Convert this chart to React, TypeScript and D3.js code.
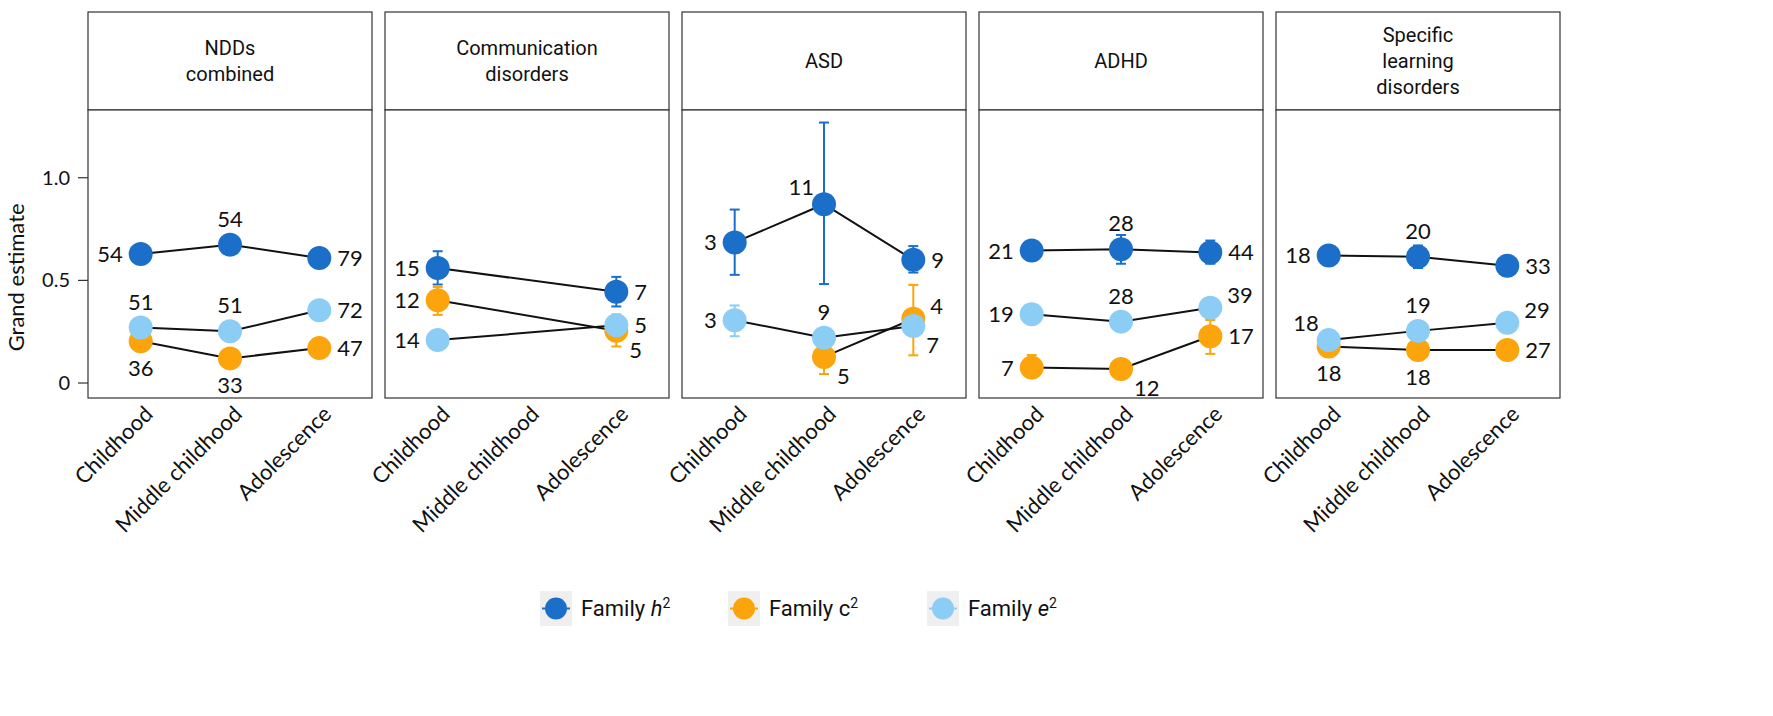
import React from 'react';
import * as d3 from 'd3';

// life stages on the x axis
const stages = ['Childhood', 'Middle childhood', 'Adolescence'];

// panel (disorder) titles, one array of lines per panel
const panelTitles = [
  ['NDDs', 'combined'],
  ['Communication', 'disorders'],
  ['ASD'],
  ['ADHD'],
  ['Specific', 'learning', 'disorders'],
];

// grand estimates per panel x stage (null = not estimated)
const h2Est = [
  [0.628, 0.674, 0.609],
  [0.56, null, 0.445],
  [0.685, 0.871, 0.6],
  [0.645, 0.652, 0.636],
  [0.621, 0.615, 0.571],
];
const c2Est = [
  [0.203, 0.12, 0.17],
  [0.403, null, 0.255],
  [null, 0.127, 0.313],
  [0.075, 0.068, 0.228],
  [0.178, 0.161, 0.161],
];
const e2Est = [
  [0.27, 0.252, 0.354],
  [0.209, null, 0.281],
  [0.306, 0.22, 0.278],
  [0.335, 0.299, 0.367],
  [0.209, 0.254, 0.293],
];

// confidence intervals [lower, upper] (null = hidden behind the point)
const h2CI = [
  [null, null, null],
  [[0.48, 0.642], null, [0.373, 0.517]],
  [[0.527, 0.845], [0.482, 1.269], [0.538, 0.667]],
  [null, [0.581, 0.721], [0.581, 0.694]],
  [null, [0.56, 0.67], null],
];
const c2CI = [
  [null, null, null],
  [[0.332, 0.468], null, [0.178, 0.29]],
  [null, [0.044, 0.22], [0.135, 0.478]],
  [[0.03, 0.136], null, [0.142, 0.307]],
  [[0.15, 0.215], null, null],
];
const e2CI = [
  [null, null, null],
  [null, null, [0.24, 0.335]],
  [[0.228, 0.378], null, [0.24, 0.31]],
  [null, null, null],
  [null, null, null],
];

// number of studies shown next to each point
const h2Studies = [
  ['54', '54', '79'],
  ['15', null, '7'],
  ['3', '11', '9'],
  ['21', '28', '44'],
  ['18', '20', '33'],
];
const c2Studies = [
  ['36', '33', '47'],
  ['12', null, '5'],
  [null, '5', '4'],
  ['7', '12', '17'],
  ['18', '18', '27'],
];
const e2Studies = [
  ['51', '51', '72'],
  ['14', null, '5'],
  ['3', '9', '7'],
  ['19', '28', '39'],
  ['18', '19', '29'],
];

// where each study count sits relative to its point
const h2Side = [
  ['l', 't', 'r'],
  ['l', null, 'r'],
  ['l', 'tl', 'r'],
  ['l', 't', 'r'],
  ['l', 't', 'r'],
];
const c2Side = [
  ['b', 'b', 'r'],
  ['l', null, 'dr'],
  [null, 'dr', 'ur'],
  ['l', 'dr', 'r'],
  ['b', 'b', 'r'],
];
const e2Side = [
  ['t', 't', 'r'],
  ['l', null, 'r'],
  ['l', 't', 'dr'],
  ['l', 't', 'ur'],
  ['tl', 't', 'ur'],
];

const yTicks = [0, 0.5, 1.0];

const W = 1773;
const H = 716;
const panelLeft0 = 88;
const panelW = 284;
const panelGap = 13;
const stripTop = 12;
const plotTop = 110;
const plotBottom = 398;
const R = 12;

const numFont = 'Lato, "Open Sans", sans-serif';
const titleFont = 'Roboto, "Liberation Sans", sans-serif';

const series = [
  { name: 'h', color: '#1b6fc9', est: h2Est, ci: h2CI, labels: h2Studies, side: h2Side, italic: true },
  { name: 'c', color: '#fba40b', est: c2Est, ci: c2CI, labels: c2Studies, side: c2Side, italic: false },
  { name: 'e', color: '#8ccdf6', est: e2Est, ci: e2CI, labels: e2Studies, side: e2Side, italic: true },
];

const y = d3.scaleLinear().domain([-0.073, 1.33]).range([plotBottom, plotTop]);
const x = d3.scalePoint<string>().domain(stages).range([0, panelW]).padding(0.59);

function labelPos(side: string, cx: number, cy: number) {
  switch (side) {
    case 'l': return { x: cx - 18, y: cy, anchor: 'end' };
    case 'r': return { x: cx + 18, y: cy, anchor: 'start' };
    case 't': return { x: cx, y: cy - 26, anchor: 'middle' };
    case 'b': return { x: cx, y: cy + 27, anchor: 'middle' };
    case 'tl': return { x: cx - 10, y: cy - 17, anchor: 'end' };
    case 'ur': return { x: cx + 17, y: cy - 13, anchor: 'start' };
    case 'dr': return { x: cx + 13, y: cy + 19, anchor: 'start' };
    default: return { x: cx, y: cy, anchor: 'middle' };
  }
}

const Panel: React.FC<{ idx: number }> = ({ idx }) => {
  const left = panelLeft0 + idx * (panelW + panelGap);
  const title = panelTitles[idx];
  const line = d3
    .line<[number, number | null]>()
    .defined((d) => d[1] != null)
    .x((d) => x(stages[d[0]]) as number)
    .y((d) => y(d[1] as number));

  return (
    <g transform={`translate(${left},0)`}>
      {/* strip */}
      <rect x={0} y={stripTop} width={panelW} height={plotTop - stripTop} fill="#fff" stroke="#333" strokeWidth={1.2} />
      {title.map((t, i) => (
        <text
          key={i}
          x={panelW / 2}
          y={(stripTop + plotTop) / 2 + (i - (title.length - 1) / 2) * 26}
          dy="0.35em"
          textAnchor="middle"
          fontFamily={titleFont}
          fontSize={20}
          fill="#111"
        >
          {t}
        </text>
      ))}
      {/* plot frame */}
      <rect x={0} y={plotTop} width={panelW} height={plotBottom - plotTop} fill="#fff" stroke="#333" strokeWidth={1.2} />

      {/* connecting lines */}
      {series.map((s) => {
        const pts = s.est[idx]
          .map((v, i) => [i, v] as [number, number | null])
          .filter((d) => d[1] != null);
        return <path key={s.name} d={line(pts) || ''} fill="none" stroke="#111" strokeWidth={2} />;
      })}

      {/* error bars + points */}
      {series.map((s) => (
        <g key={s.name}>
          {s.est[idx].map((v, i) => {
            if (v == null) return null;
            const cx = x(stages[i]) as number;
            const ci = s.ci[idx][i];
            return (
              <g key={i}>
                {ci && (
                  <g stroke={s.color} strokeWidth={2}>
                    <line x1={cx} x2={cx} y1={y(ci[0])} y2={y(ci[1])} />
                    <line x1={cx - 5} x2={cx + 5} y1={y(ci[0])} y2={y(ci[0])} />
                    <line x1={cx - 5} x2={cx + 5} y1={y(ci[1])} y2={y(ci[1])} />
                  </g>
                )}
                <circle cx={cx} cy={y(v)} r={R} fill={s.color} />
              </g>
            );
          })}
        </g>
      ))}

      {/* study counts */}
      {series.map((s) => (
        <g key={s.name}>
          {s.est[idx].map((v, i) => {
            const lab = s.labels[idx][i];
            const side = s.side[idx][i];
            if (v == null || lab == null || side == null) return null;
            const p = labelPos(side, x(stages[i]) as number, y(v));
            return (
              <text key={i} x={p.x} y={p.y} dy="0.36em" textAnchor={p.anchor} fontFamily={numFont} fontSize={22} fill="#111">
                {lab}
              </text>
            );
          })}
        </g>
      ))}

      {/* x labels */}
      {stages.map((st) => (
        <text
          key={st}
          transform={`translate(${(x(st) as number) + 8},${plotBottom + 12}) rotate(-45)`}
          textAnchor="end"
          dy="0.35em"
          fontFamily={numFont}
          fontSize={22}
          fill="#111"
        >
          {st}
        </text>
      ))}
    </g>
  );
};

const legendX = [540, 728, 927];

const App: React.FC = () => {
  return (
    <svg width={W} height={H} style={{ position: 'absolute', left: 0, top: 0, background: '#fff' }}>
      {/* y axis */}
      <g>
        {yTicks.map((t) => (
          <g key={t}>
            <line x1={panelLeft0 - 10} x2={panelLeft0} y1={y(t)} y2={y(t)} stroke="#333" strokeWidth={1.2} />
            <text x={panelLeft0 - 18} y={y(t)} dy="0.35em" textAnchor="end" fontFamily={numFont} fontSize={20} fill="#111">
              {t === 0 ? '0' : t.toFixed(1)}
            </text>
          </g>
        ))}
        <text
          transform={`translate(16,${(y(0) + y(1.0)) / 2 - 3}) rotate(-90)`}
          textAnchor="middle"
          dy="0.35em"
          fontFamily={numFont}
          fontSize={22}
          fill="#111"
        >
          Grand estimate
        </text>
      </g>

      {panelTitles.map((_, i) => (
        <Panel key={i} idx={i} />
      ))}

      {/* legend */}
      {series.map((s, i) => (
        <g key={s.name} transform={`translate(${legendX[i]},591)`}>
          <rect x={0} y={0} width={32} height={35} fill="#efefef" />
          <line x1={2} x2={30} y1={17.5} y2={17.5} stroke={s.color} strokeWidth={2} />
          <circle cx={16} cy={17.5} r={11} fill={s.color} />
          <text x={41} y={17.5} dy="0.35em" fontFamily={titleFont} fontSize={22} fill="#111">
            Family{' '}
            <tspan fontStyle={s.italic ? 'italic' : 'normal'}>{s.name}</tspan>
            <tspan fontSize={14} dy="-0.6em">2</tspan>
          </text>
        </g>
      ))}
    </svg>
  );
};

export default App;
